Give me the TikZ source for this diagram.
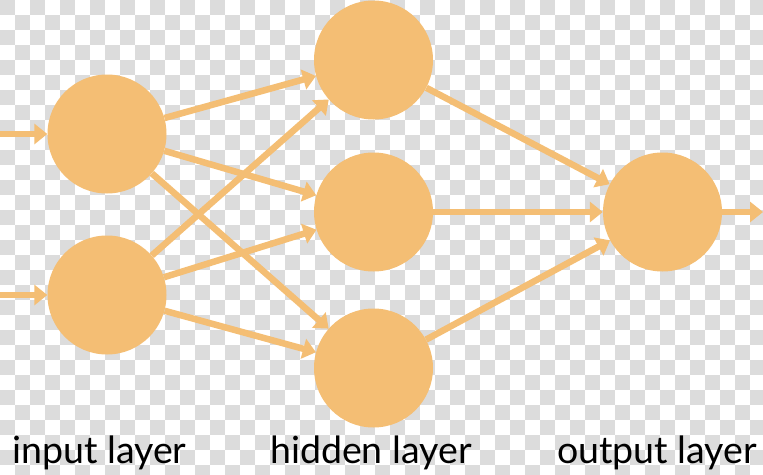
\documentclass[tikz,border=0pt]{standalone}
\usepackage{fontspec}
\setmainfont{Lato}
\usetikzlibrary{arrows.meta}
\definecolor{nodeorange}{RGB}{244,190,116}
\definecolor{checkgray}{RGB}{220,220,220}
\tikzset{
  neuron/.style={circle, fill=nodeorange, draw=none, minimum size=119pt, inner sep=0pt},
  conn/.style={draw=nodeorange, line width=6.5pt, -{Triangle[length=13pt,width=20pt]}},
  lbl/.style={anchor=base west, inner sep=0pt, text=black, font=\fontsize{37.5}{44}\selectfont}
}
\begin{document}
\begin{tikzpicture}[x=1pt,y=-1pt]
\useasboundingbox (0,0) rectangle (763,474);
\fill[white] (0,0) rectangle (763,474);
\foreach \i in {0,...,50}{
  \foreach \j in {0,...,31}{
    \pgfmathtruncatemacro\p{mod(\i+\j,2)}
    \ifnum\p=0
      \fill[checkgray] (\i*15,\j*15) rectangle ++(15,15);
    \fi
  }
}
\clip (0,0) rectangle (763,474);
\node[neuron] (i1) at (107,134) {};
\node[neuron] (i2) at (107,295) {};
\node[neuron] (h1) at (373.5,60) {};
\node[neuron] (h2) at (373.5,212) {};
\node[neuron] (h3) at (373.5,368) {};
\node[neuron] (o) at (662.5,212) {};
\coordinate (in1) at (0,134);
\coordinate (in2) at (0,295);
\coordinate (out) at (763,212);
\draw[conn] (in1) -- (i1);
\draw[conn] (in2) -- (i2);
\foreach \a in {i1,i2}{
  \foreach \b in {h1,h2,h3}{
    \draw[conn] (\a) -- (\b);
  }
}
\foreach \b in {h1,h2,h3}{
  \draw[conn] (\b) -- (o);
}
\draw[conn] (o) -- (out);
\node[lbl] (t1) at (12,463) {input layer};
\node[lbl] (t2) at (270,463) {hidden layer};
\node[lbl] (t3) at (557,463) {output layer};
\end{tikzpicture}
\end{document}
